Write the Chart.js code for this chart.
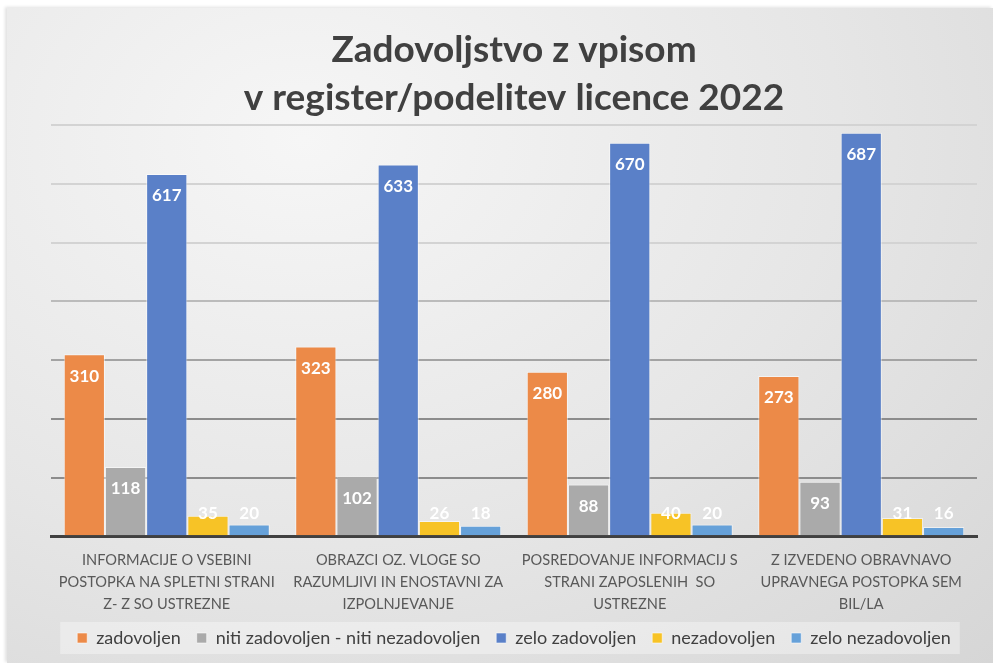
<!DOCTYPE html>
<html>
<head>
<meta charset="utf-8">
<script src="https://cdn.jsdelivr.net/npm/chart.js@4.4.1/dist/chart.umd.min.js"></script>
<style>
  html, body { margin: 0; padding: 0; background: #ffffff; width: 993px; height: 663px; overflow: hidden; }
  #card {
    position: absolute; left: 7px; top: 8px; width: 986px; height: 655px;
    background: radial-gradient(ellipse at 30% 20%, #f6f6f6 0%, #e6e6e6 55%, #d6d6d6 100%);
    box-shadow: -2px -1px 3px rgba(0,0,0,0.12);
  }
  #wrap { position: absolute; left: 0; top: 0; width: 993px; height: 663px; }
</style>
</head>
<body>
<div id="card"></div>
<div id="wrap"><canvas id="c" width="993" height="663"></canvas></div>
<script>
const titleLines = ['Zadovoljstvo z vpisom', 'v register/podelitev licence 2022'];
const categories = [
  ['INFORMACIJE O VSEBINI', 'POSTOPKA NA SPLETNI STRANI', 'Z- Z SO USTREZNE'],
  ['OBRAZCI OZ. VLOGE SO', 'RAZUMLJIVI IN ENOSTAVNI ZA', 'IZPOLNJEVANJE'],
  ['POSREDOVANJE INFORMACIJ S', 'STRANI ZAPOSLENIH  SO', 'USTREZNE'],
  ['Z IZVEDENO OBRAVNAVO', 'UPRAVNEGA POSTOPKA SEM', 'BIL/LA']
];
const seriesNames = ['zadovoljen', 'niti zadovoljen - niti nezadovoljen', 'zelo zadovoljen', 'nezadovoljen', 'zelo nezadovoljen'];
const zadovoljen = [310, 323, 280, 273];
const nitiNiti = [118, 102, 88, 93];
const zeloZadovoljen = [617, 633, 670, 687];
const nezadovoljen = [35, 26, 40, 31];
const zeloNezadovoljen = [20, 18, 20, 16];
const seriesColors = ['#EC8A48', '#AAAAAA', '#5A80C8', '#F7C326', '#66A1D9'];

const valueLabels = {
  id: 'valueLabels',
  afterDatasetsDraw(chart) {
    const ctx = chart.ctx;
    ctx.save();
    ctx.font = 'bold 17px Lato';
    ctx.fillStyle = '#ffffff';
    ctx.textAlign = 'center';
    ctx.textBaseline = 'middle';
    chart.data.datasets.forEach((ds, i) => {
      chart.getDatasetMeta(i).data.forEach((el, j) => {
        const y = Math.min(el.y + 22, el.base - 22);
        ctx.fillText(String(ds.data[j]), el.x, y);
      });
    });
    ctx.restore();
  }
};

const legendBg = {
  id: 'legendBg',
  beforeDraw(chart) {
    const lg = chart.legend;
    if (!lg || !lg.legendHitBoxes || !lg.legendHitBoxes.length) return;
    const boxes = lg.legendHitBoxes;
    const x0 = boxes[0].left - 17;
    const last = boxes[boxes.length - 1];
    const x1 = last.left + last.width + 9;
    const cy = boxes[0].top + boxes[0].height / 2;
    const ctx = chart.ctx;
    ctx.save();
    ctx.fillStyle = 'rgba(255,255,255,0.35)';
    ctx.fillRect(x0, cy - 16, x1 - x0, 32);
    ctx.restore();
  }
};

const datasets = [zadovoljen, nitiNiti, zeloZadovoljen, nezadovoljen, zeloNezadovoljen].map((d, i) => ({
  label: seriesNames[i],
  data: d,
  backgroundColor: seriesColors[i],
  borderColor: 'rgba(255,255,255,0.55)',
  borderWidth: 1,
  barPercentage: 1.0,
  categoryPercentage: 0.89
}));

function gridColor(v) {
  if (v <= 200) return '#8c8c8c';
  if (v === 300) return '#a3a3a3';
  if (v === 400) return '#bbbbbb';
  return '#d3d3d3';
}

new Chart(document.getElementById('c'), {
  type: 'bar',
  data: { labels: categories, datasets },
  plugins: [legendBg, valueLabels],
  options: {
    responsive: false,
    animation: false,
    layout: { padding: { left: 51, right: 16, top: 0, bottom: 6 } },
    plugins: {
      title: {
        display: true,
        text: titleLines,
        color: '#404040',
        font: { family: 'Lato', size: 37, weight: 'bold', lineHeight: 1.3 },
        padding: { top: 26, bottom: 3 }
      },
      legend: {
        position: 'bottom',
        labels: {
          color: '#404040',
          font: { family: 'Lato', size: 18 },
          boxWidth: 10,
          boxHeight: 10,
          padding: 16
        }
      },
      tooltip: { enabled: false }
    },
    scales: {
      x: {
        grid: { display: false },
        border: { display: true, color: '#404040', width: 3 },
        ticks: {
          color: '#595959',
          font: { family: 'Lato', size: 14.6, lineHeight: 1.5 },
          padding: 5,
          maxRotation: 0,
          autoSkip: false
        },
        afterFit(axis) { axis.height -= 7; }
      },
      y: {
        min: 0,
        max: 700,
        ticks: { display: false, stepSize: 100 },
        border: { display: false },
        grid: {
          drawTicks: false,
          lineWidth: 2,
          color: (c) => gridColor(c.tick ? c.tick.value : 0)
        },
        afterFit(axis) { axis.width = 0; }
      }
    }
  }
});
</script>
</body>
</html>
